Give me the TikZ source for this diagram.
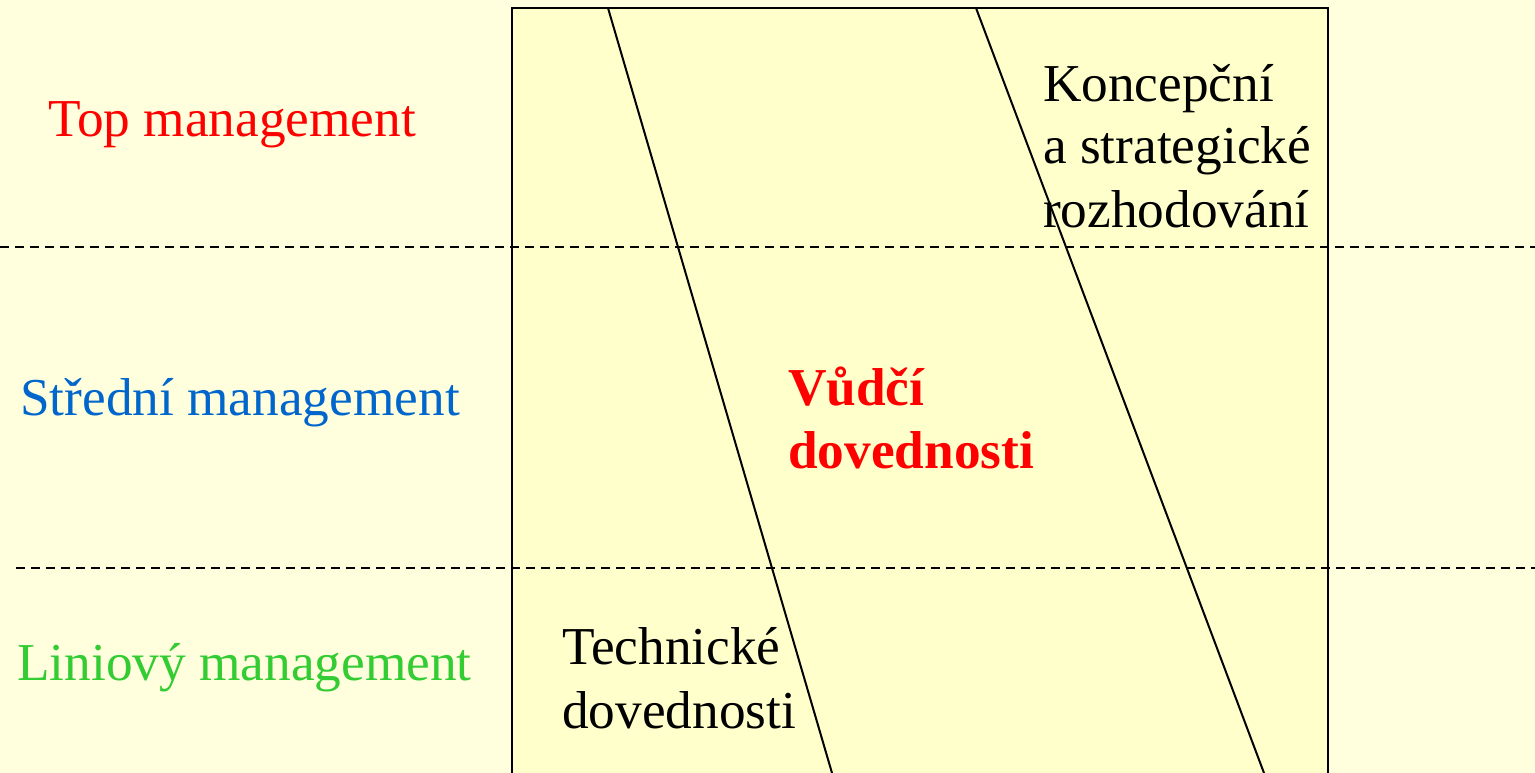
\documentclass[tikz,border=0pt]{standalone}
\usepackage{fontspec}
\setmainfont{Liberation Serif}
\definecolor{bgyellow}{HTML}{FFFFDD}
\definecolor{boxyellow}{HTML}{FFFFCC}
\definecolor{topred}{HTML}{FF0000}
\definecolor{midblue}{HTML}{0066CC}
\definecolor{linegreen}{HTML}{33CC33}
\tikzset{
  lbl/.style={anchor=base west, inner sep=0pt, font=\fontsize{53.3}{64}\selectfont},
  boldlbl/.style={lbl, text=topred, font=\fontsize{53.3}{64}\selectfont\bfseries},
  divider/.style={draw=black, line width=2pt, dash pattern=on 9pt off 6pt},
  slant/.style={draw=black, line width=2pt},
}
\begin{document}
\begin{tikzpicture}[x=1pt,y=-1pt]
  \useasboundingbox (0,0) rectangle (1535,773);
  \fill[bgyellow] (0,0) rectangle (1535,773);
  \begin{scope}
    \clip (0,0) rectangle (1535,773);
    \draw[fill=boxyellow, line width=2.6pt] (512,8) rectangle (1328,790);
    \coordinate (d1a) at (0,247);
    \coordinate (d1b) at (1535,247);
    \coordinate (d2a) at (16,568);
    \coordinate (d2b) at (1535,568);
    \draw[divider] (d1a) -- (d1b);
    \draw[divider] (d2a) -- (d2b);
    \coordinate (s1a) at (608,8);
    \coordinate (s1b) at (832,773);
    \coordinate (s2a) at (976,8);
    \coordinate (s2b) at (1264,773);
    \draw[slant] (s1a) -- (s1b);
    \draw[slant] (s2a) -- (s2b);
  \end{scope}
  \node[lbl, text=topred] (top) at (48,137) {Top management};
  \node[lbl, text=midblue] (mid) at (20,415) {Střední management};
  \node[lbl, text=linegreen] (lin) at (17,680) {Liniový management};
  \node[lbl] (k1) at (1043,102) {Koncepční};
  \node[lbl] (k2) at (1043,164) {a strategické};
  \node[lbl] (k3) at (1043,227) {rozhodování};
  \node[boldlbl] (v1) at (788,405) {Vůdčí};
  \node[boldlbl] (v2) at (788,468) {dovednosti};
  \node[lbl] (t1) at (562,664) {Technické};
  \node[lbl] (t2) at (562,728) {dovednosti};
\end{tikzpicture}
\end{document}
